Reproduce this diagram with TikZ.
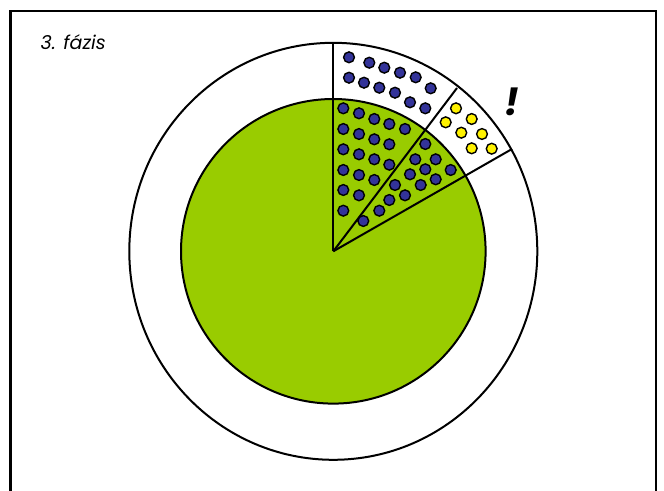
\documentclass[tikz,border=0pt]{standalone}
\usepackage{fontspec}
\setmainfont{Poppins}
\usepackage{tikz}
\usetikzlibrary{positioning}
\definecolor{leafgreen}{HTML}{99CC00}
\definecolor{dotblue}{HTML}{333399}
\tikzset{
  rim/.style={line width=2pt},
  bluedot/.style={circle, draw=black, fill=dotblue, line width=1.4pt,
    inner sep=0pt, minimum size=10.8pt},
  yellowdot/.style={bluedot, fill=yellow}
}

\begin{document}
\begin{tikzpicture}[x=1pt,y=-1pt]
  \useasboundingbox (0,0) rectangle (664,490);
  % frame, open at the bottom
  \draw[line width=2.5pt] (10.5,500) -- (10.5,11) -- (656,11) -- (656,500);
  \node[anchor=west, inner sep=0pt, font=\itshape\fontsize{19}{22}\selectfont] (title) at (40.5,42) {3. fázis};

  \coordinate (c) at (333.3,251.3);
  \draw[rim] (c) ellipse [x radius=204, y radius=208.5];
  \fill[leafgreen] (c) circle [radius=152.3];
  \draw[rim] (c) circle [radius=152.3];
  % sector borders
  \draw[rim] (c) -- +(0,-208.5);
  \draw[rim] (c) -- +(123.7,-163.3);
  \draw[rim] (c) -- +(178.7,-102.3);

  % outer ring
  \foreach \x/\y in {349/57.3, 369.3/62.7, 384.3/67.7, 400/72.7, 415.7/77.3, 430.7/88.3,
                     349/77.7, 364/82.7, 379.3/87.7, 395/92.7, 410/102.3, 425.3/108.3}
    \node[bluedot] at (\x,\y) {};
  \foreach \x/\y in {456/108.3, 471.7/119, 445.7/122.3, 461.3/132.7, 482/134,
                     471.7/148.3, 491.7/148.7}
    \node[yellowdot] at (\x,\y) {};
  \node[inner sep=0pt, font=\bfseries\itshape\fontsize{38}{38}\selectfont] (bang) at (512,102) {!};

  % green part
  \foreach \x/\y in {343.3/108.3, 359/113.3, 374.3/119, 389.3/124, 405/129,
                     343.3/129, 359/134, 374.3/139.3, 389.3/144.3,
                     343.3/149.3, 359/154.3, 374.3/159.3, 389.3/164.7,
                     343.3/170, 359/175, 374.3/180,
                     343.3/190, 359/195.3,
                     343.3/210.7}
    \node[bluedot] at (\x,\y) {};
  \foreach \x/\y in {425.3/144, 415.3/159.3, 435.7/159.3, 425.3/169.3, 410/174.3,
                     450.7/170, 435.7/179.3, 395/185, 420.7/185, 405/195.3,
                     389.3/200, 379.3/210.7, 363.3/221}
    \node[bluedot] at (\x,\y) {};
\end{tikzpicture}
\end{document}
